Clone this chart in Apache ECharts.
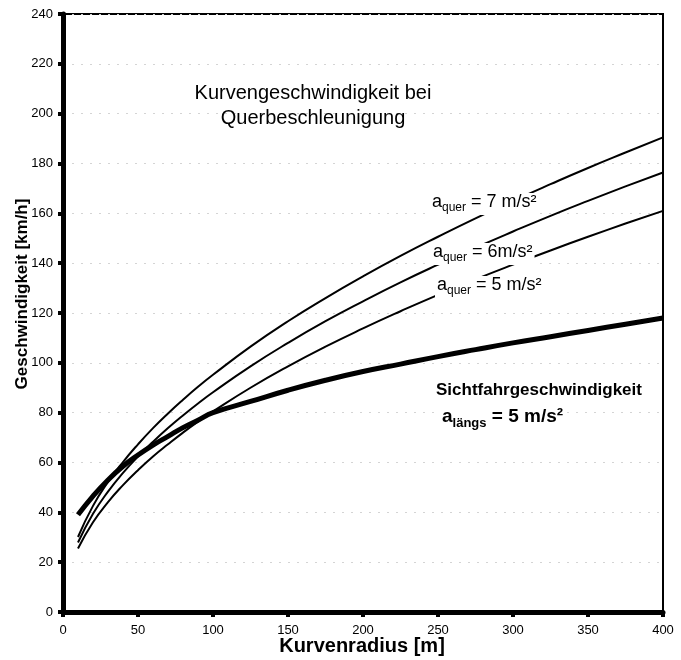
<!DOCTYPE html>
<html><head><meta charset="utf-8">
<script src="https://cdn.jsdelivr.net/npm/echarts@6/dist/echarts.min.js"></script>
<style>html,body{margin:0;padding:0;background:#fff}#c{width:681px;height:660px}</style>
</head><body><div id="c"></div>
<script>
const radius = [10,20,30,40,50,60,70,80,90,100,125,150,175,200,225,250,275,300,325,350,375,400];
const quer7 = [30.1,42.6,52.2,60.2,67.3,73.8,79.7,85.2,90.4,95.2,106.5,116.7,126.0,134.7,142.9,150.6,158.0,165.0,171.7,178.2,184.4,190.5];
const quer6 = [27.9,39.4,48.3,55.8,62.4,68.3,73.8,78.9,83.7,88.2,98.6,108.0,116.7,124.7,132.3,139.4,146.2,152.7,159.0,165.0,170.8,176.4];
const quer5 = [25.5,36.0,44.1,50.9,56.9,62.4,67.3,72.0,76.4,80.5,90.0,98.6,106.5,113.8,120.7,127.3,133.5,139.4,145.1,150.6,155.9,161.0];
const sicht = [39,46.5,53,58.5,63,67,70.5,74,77,80,84.5,89,93,96.5,99.5,102.5,105.3,108,110.5,113,115.5,118];

const pair = ys => radius.map((r,i)=>[r,ys[i]]);
const font = 'Liberation Sans, Arial, sans-serif';
const chart = echarts.init(document.getElementById('c'), null, {renderer:'canvas'});
const line = (name, ys, w) => ({name, type:'line', data:pair(ys), smooth:true, showSymbol:false,
  lineStyle:{color:'#000', width:w}, z:3});
const sub = (x,y,main,subtxt,rest,bold,size,ssize) => ({type:'text', left:x, top:y, z:10, style:{
  text:'{m|'+main+'}{s|'+subtxt+'}{m|'+rest+'}', fill:'#000', backgroundColor:'#fff', padding:[0,2,2,2],
  rich:{ m:{fontSize:size, fontFamily:font, fontWeight:bold?'bold':'normal', fill:'#000', lineHeight:size+2, verticalAlign:'top'},
         s:{fontSize:ssize, fontFamily:font, fontWeight:bold?'bold':'normal', fill:'#000', padding:[Math.round(size*0.5),0,0,0], lineHeight:size+2, verticalAlign:'top'} }}});
chart.setOption({
  animation:false,
  backgroundColor:'#fff',
  grid:{left:63, right:18, top:14, bottom:48, show:true, borderColor:'#000', borderWidth:2, backgroundColor:'transparent'},
  xAxis:{type:'value', min:0, max:400, interval:50,
    axisLine:{lineStyle:{color:'#000', width:5}},
    axisTick:{show:true, length:5, lineStyle:{color:'#000', width:4}},
    axisLabel:{color:'#000', fontFamily:font, fontSize:13, margin:12},
    splitLine:{show:false}},
  yAxis:{type:'value', min:0, max:240, interval:20,
    axisLine:{show:true, lineStyle:{color:'#000', width:5}},
    axisTick:{show:true, length:5, lineStyle:{color:'#000', width:4}},
    axisLabel:{color:'#000', fontFamily:font, fontSize:13, margin:10},
    splitLine:{show:true, lineStyle:{color:'#d4d4d4', width:1, type:[2,7]}}},
  series:[line('a7',quer7,2), line('a6',quer6,2), line('a5',quer5,2), line('sicht',sicht,5)],
  graphic:[
    {type:'text', x:313, y:81, z:10, style:{text:'Kurvengeschwindigkeit bei\nQuerbeschleunigung', align:'center', verticalAlign:'top', fill:'#000', fontFamily:font, fontSize:20, lineHeight:25}},
    {type:'text', x:22, y:294, rotation:Math.PI/2, z:10, style:{text:'Geschwindigkeit [km/h]', align:'center', verticalAlign:'middle', fill:'#000', fontFamily:font, fontSize:17, fontWeight:'bold'}},
    {type:'text', x:362, y:646, z:10, style:{text:'Kurvenradius [m]', align:'center', verticalAlign:'middle', fill:'#000', fontFamily:font, fontSize:20, fontWeight:'bold'}},
    sub(430,193,'a','quer',' = 7 m/s²',false,18,12),
    sub(431,243,'a','quer',' = 6m/s²',false,18,12),
    sub(435,276,'a','quer',' = 5 m/s²',false,18,12),
    {type:'text', left:436, top:382, z:10, style:{text:'Sichtfahrgeschwindigkeit', fill:'#000', fontFamily:font, fontSize:17, fontWeight:'bold'}},
    sub(440,407,'a','längs',' = 5 m/s²',true,19,13)
  ]
});
</script></body></html>
